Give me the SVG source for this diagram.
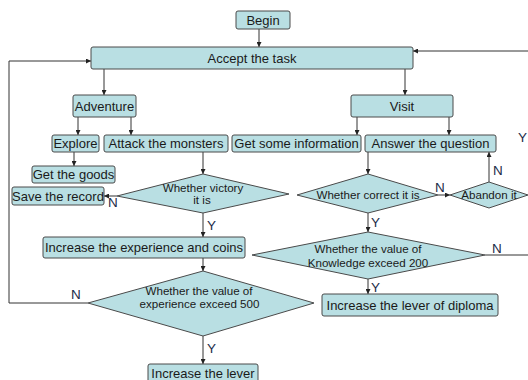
<svg xmlns="http://www.w3.org/2000/svg" width="528" height="380" viewBox="0 0 528 380">
<defs>
<marker id="ah" viewBox="0 0 10 10" refX="10" refY="5" markerWidth="5" markerHeight="5" orient="auto" markerUnits="userSpaceOnUse"><path d="M0,0 L10,5 L0,10 z" fill="#222"/></marker>
<style>
.b{fill:#b9dfe3;stroke:#4a4a4a;stroke-width:1}
.t{font-family:"Liberation Sans",Arial,sans-serif;font-size:13px;fill:#1a1a1a;text-anchor:middle}
.d{font-family:"Liberation Sans",Arial,sans-serif;font-size:11.6px;fill:#1a1a1a;text-anchor:middle}
.l{font-family:"Liberation Sans",Arial,sans-serif;font-size:13.5px;fill:#1c2c48}
.c{fill:none;stroke:#333;stroke-width:1}
.a{marker-end:url(#ah)}
</style>
</defs>
<rect width="528" height="380" fill="#ffffff"/>
<g id="connectors">
<path class="c a" d="M259,29 V47"/>
<path class="c a" d="M104,69 V95"/>
<path class="c a" d="M405,69 V95"/>
<path class="c a" d="M78,117 V135"/>
<path class="c a" d="M131,117 V135"/>
<path class="c a" d="M357,117 V135"/>
<path class="c a" d="M449,117 V135"/>
<path class="c a" d="M74,152 V166"/>
<path class="c a" d="M203,152 V174"/>
<path class="c a" d="M117,196 H104"/>
<path class="c a" d="M203,213 V237"/>
<path class="c a" d="M203,258 V271"/>
<path class="c a" d="M88,303 H9 V61 H91"/>
<path class="c a" d="M203,336 V364"/>
<path class="c a" d="M368,152 V174"/>
<path class="c a" d="M438,195 H450"/>
<path class="c a" d="M489,182 V152"/>
<path class="c a" d="M368,213 V232"/>
<path class="c a" d="M368,279 V294"/>
<path class="c" d="M485,255 H528"/>
<path class="c a" d="M528,51 H413"/>
<text class="l" x="108" y="207">N</text>
<text class="l" x="207" y="230">Y</text>
<text class="l" x="71" y="299">N</text>
<text class="l" x="207" y="353">Y</text>
<text class="l" x="435" y="192">N</text>
<text class="l" x="493" y="175">N</text>
<text class="l" x="518" y="142">Y</text>
<text class="l" x="371" y="227">Y</text>
<text class="l" x="492" y="253">N</text>
<text class="l" x="371" y="292">Y</text>
</g>
<g id="begin"><rect class="b" x="236" y="11" width="54" height="18" rx="2"/><text class="t" x="263" y="25">Begin</text></g>
<g id="accept"><rect class="b" x="91" y="47" width="322" height="22" rx="2"/><text class="t" x="252" y="63">Accept the task</text></g>
<g id="adventure"><rect class="b" x="73" y="95" width="63" height="22" rx="2"/><text class="t" x="104.5" y="111">Adventure</text></g>
<g id="visit"><rect class="b" x="351" y="95" width="102" height="22" rx="2"/><text class="t" x="402" y="111">Visit</text></g>
<g id="explore"><rect class="b" x="52" y="135" width="47" height="17" rx="2"/><text class="t" x="75.5" y="148">Explore</text></g>
<g id="attack"><rect class="b" x="104" y="135" width="124" height="17" rx="2"/><text class="t" x="166" y="148">Attack the monsters</text></g>
<g id="getinfo"><rect class="b" x="232" y="135" width="129" height="17" rx="2"/><text class="t" x="296.5" y="148">Get some information</text></g>
<g id="answer"><rect class="b" x="365" y="135" width="131" height="17" rx="2"/><text class="t" x="430.5" y="148">Answer the question</text></g>
<g id="getgoods"><rect class="b" x="32" y="166" width="83" height="17" rx="2"/><text class="t" x="73.5" y="179">Get the goods</text></g>
<g id="saverecord"><rect class="b" x="12" y="187" width="92" height="18" rx="2"/><text class="t" x="58" y="201">Save the record</text></g>
<g id="victory"><polygon class="b" points="117,196 203,174 289,194 203,213"/><text class="d" x="203" y="192">Whether victory</text><text class="d" x="202" y="204">it is</text></g>
<g id="incexp"><rect class="b" x="43" y="237" width="202" height="21" rx="2"/><text class="t" x="144" y="252">Increase the experience and coins</text></g>
<g id="expdiamond"><polygon class="b" points="88,303 203,271 314,303 203,336"/><text class="d" x="199" y="295">Whether the value of</text><text class="d" x="199.5" y="308">experience exceed 500</text></g>
<g id="inclever"><rect class="b" x="148" y="364" width="110" height="22" rx="2"/><text class="t" x="203" y="378">Increase the lever</text></g>
<g id="correct"><polygon class="b" points="297,195 368,174 438,195 368,213"/><text class="d" x="368" y="199">Whether correct it is</text></g>
<g id="abandon"><polygon class="b" points="450,195 489,182 528,195 489,208"/><text class="d" x="489" y="199">Abandon it</text></g>
<g id="knowledge"><polygon class="b" points="252,255 368,232 485,255 368,279"/><text class="d" x="368" y="253">Whether the value of</text><text class="d" x="368" y="267">Knowledge exceed 200</text></g>
<g id="diploma"><rect class="b" x="322" y="294" width="176" height="22" rx="2"/><text class="t" x="410" y="310">Increase the lever of diploma</text></g>
</svg>
